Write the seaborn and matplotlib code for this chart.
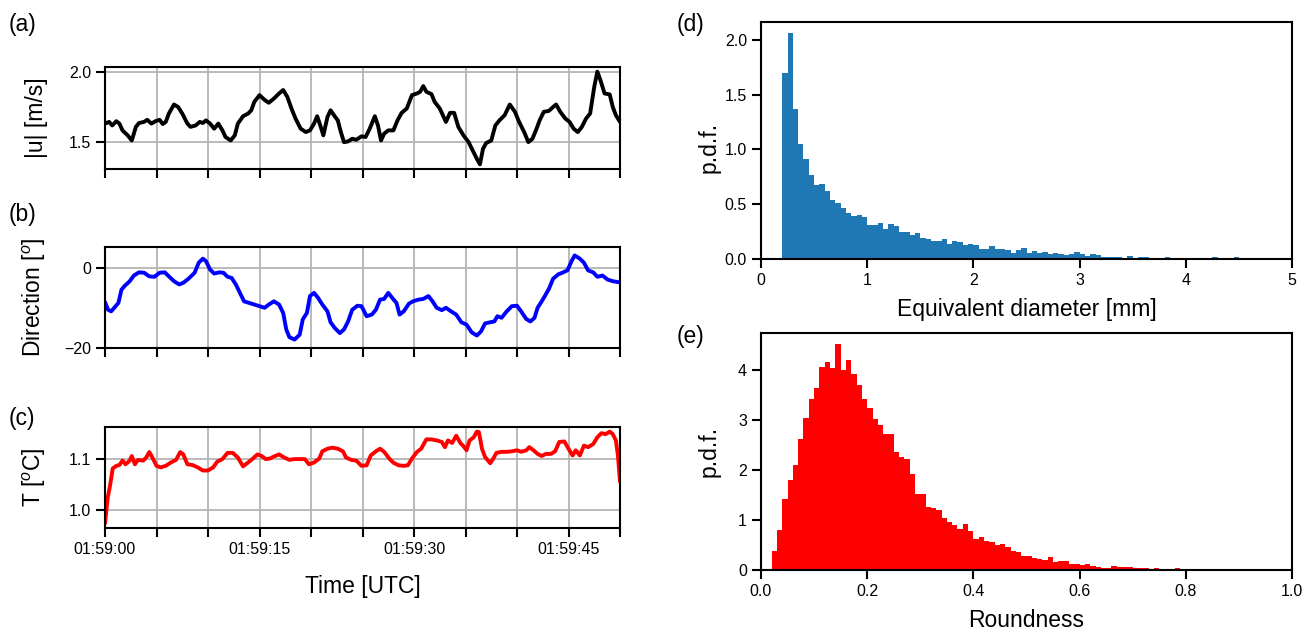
import numpy as np
import pandas as pd
import matplotlib
matplotlib.use("Agg")
import matplotlib.pyplot as plt
import seaborn as sns

# ---------------- data ----------------
# (a) wind speed |u| [m/s] vs seconds after 01:59:00
t_u = [0.0, 0.4, 0.7, 1.1, 1.4, 1.7, 2.2, 2.6, 3.0, 3.3, 3.8, 4.1, 4.5, 4.9, 5.3, 5.6, 5.9, 6.2, 6.7, 7.1,
       7.5, 8.0, 8.3, 8.8, 9.2, 9.5, 9.8, 10.2, 10.6, 11.0, 11.4, 11.7, 12.2, 12.6, 12.9, 13.4, 13.9, 14.2, 14.5, 15.0,
       15.5, 15.9, 16.4, 16.9, 17.3, 17.7, 18.1, 18.5, 19.0, 19.5, 19.9, 20.3, 20.6, 20.9, 21.2, 21.6, 21.9, 22.3, 22.6, 22.9,
       23.2, 23.6, 24.0, 24.4, 24.9,
       25.3, 25.7, 26.2, 26.5, 26.8, 27.1, 27.5, 28.0, 28.4, 28.8, 29.3, 29.8, 30.3, 30.6, 30.9, 31.2, 31.7, 32.0, 32.5, 33.1,
       33.5, 33.9, 34.3, 34.8, 35.3, 35.7, 36.1, 36.4, 36.7, 37.0, 37.5, 37.9, 38.3, 38.8, 39.3, 39.8, 40.2, 40.7, 41.1, 41.5,
       41.9, 42.2, 42.6, 43.1, 43.5, 43.8, 44.2, 44.7, 45.1, 45.5, 45.9, 46.3, 46.7, 47.1, 47.5, 47.8, 48.1, 48.5, 49.0, 49.3,
       49.6, 50.0]
u_vals = [1.633, 1.645, 1.62, 1.65, 1.633, 1.585, 1.55, 1.514, 1.61, 1.637, 1.645, 1.66, 1.633, 1.65, 1.66, 1.63, 1.645, 1.704, 1.768, 1.75,
          1.704, 1.633, 1.61, 1.62, 1.645, 1.637, 1.656, 1.633, 1.597, 1.633, 1.585, 1.538, 1.514, 1.55, 1.633, 1.685, 1.704, 1.727, 1.787, 1.834,
          1.8, 1.78, 1.81, 1.846, 1.87, 1.822, 1.74, 1.668, 1.597, 1.573, 1.585, 1.633, 1.685, 1.62, 1.55, 1.68, 1.727, 1.685, 1.656, 1.573,
          1.502, 1.507, 1.526, 1.519, 1.543,
          1.538, 1.597, 1.685, 1.62, 1.514, 1.562, 1.585, 1.585, 1.656, 1.709, 1.74, 1.834, 1.846, 1.858, 1.898, 1.858, 1.841, 1.787, 1.74, 1.645,
          1.709, 1.709, 1.61, 1.55, 1.502, 1.443, 1.384, 1.345, 1.455, 1.495, 1.514, 1.62, 1.656, 1.692, 1.768, 1.716, 1.645, 1.573, 1.502, 1.526,
          1.597, 1.656, 1.716, 1.723, 1.75, 1.768, 1.716, 1.668, 1.645, 1.597, 1.573, 1.61, 1.668, 1.704, 1.893, 2.0, 1.94, 1.846, 1.839, 1.75,
          1.692, 1.645]

# (b) wind direction [deg]
t_dir = [0.0, 0.3, 0.6, 0.9, 1.3, 1.6, 1.9, 2.4, 2.8, 3.3, 3.8, 4.3, 4.8, 5.3, 5.8, 6.2, 6.7, 7.2, 7.6, 8.1,
         8.7, 9.1, 9.5, 9.8, 10.2, 10.6, 11.1, 11.5, 11.9, 12.3, 12.7, 13.1, 13.5, 14.0, 14.5, 15.0, 15.5, 15.9, 16.4, 16.9,
         17.3, 17.6, 17.9, 18.4, 18.9, 19.2, 19.6, 19.9, 20.3, 20.7, 21.1, 21.6, 21.9, 22.3, 22.8, 23.2, 23.6, 24.0, 24.5, 24.9,
         25.4, 25.9, 26.3, 26.7, 27.1, 27.5, 27.9, 28.3, 28.6, 29.0, 29.5, 29.9, 30.4, 30.9, 31.4, 31.8, 32.2, 32.7, 33.1, 33.6,
         34.1, 34.6, 35.1, 35.6, 36.1, 36.5, 36.9, 37.4, 37.8, 38.1, 38.5, 39.0, 39.5, 40.0, 40.4, 40.9, 41.3, 41.7, 42.0, 42.4,
         42.7, 43.1, 43.5, 44.0, 44.4, 44.9, 45.3, 45.6, 46.1, 46.5, 46.9, 47.4, 47.8, 48.3, 48.8, 49.3, 50.0]
dir_vals = [-8.6, -10.5, -10.9, -10.0, -8.8, -5.5, -4.6, -3.4, -2.0, -1.2, -1.3, -2.2, -2.3, -1.3, -1.2, -2.2, -3.4, -4.2, -3.8, -2.8,
            -1.3, 1.2, 2.2, 1.6, -0.5, -1.5, -1.2, -1.3, -2.3, -2.6, -4.2, -6.3, -8.4, -8.8, -9.2, -9.6, -10.0, -9.2, -8.4, -9.2,
            -11.3, -15.4, -17.3, -17.9, -16.7, -12.9, -11.3, -7.1, -6.3, -7.6, -9.2, -10.9, -13.6, -15.0, -16.3, -15.4, -13.4, -10.5, -9.5, -9.6,
            -12.1, -11.7, -10.5, -8.0, -7.8, -6.3, -7.6, -8.8, -11.7, -10.9, -9.0, -8.4, -8.0, -7.8, -7.1, -8.4, -10.0, -10.6, -10.0, -10.9,
            -11.7, -13.6, -14.2, -16.1, -16.9, -15.9, -13.9, -13.6, -13.4, -12.1, -12.5, -10.9, -9.6, -9.5, -10.9, -12.8, -13.4, -12.5, -10.0, -8.4,
            -7.1, -5.3, -2.8, -1.7, -1.3, -0.7, 1.6, 3.0, 2.2, 1.2, -0.7, -1.2, -2.3, -2.0, -3.0, -3.4, -3.7]

# (c) temperature [degC]
t_T = [0.0, 0.26, 0.5, 0.75, 1.1, 1.4, 1.7, 2.0, 2.4, 2.6, 2.9, 3.2, 3.7, 4.0, 4.3, 4.6, 5.0, 5.4, 5.9, 6.4,
       6.9, 7.3, 7.6, 8.0, 8.5, 9.0, 9.5, 10.0, 10.5, 10.9, 11.4, 11.9, 12.4, 12.9, 13.4, 13.9, 14.3, 14.8, 15.2, 15.6,
       16.0, 16.4, 16.9, 17.4, 17.9, 18.4, 18.9, 19.4, 19.8, 20.3, 20.8, 21.1, 21.6, 22.1, 22.6, 23.1, 23.4, 23.9, 24.4, 24.9,
       25.4, 25.8, 26.3, 26.7, 27.1, 27.6, 28.0, 28.5, 29.0, 29.4, 29.8, 30.3, 30.7, 31.2, 31.7, 32.2, 32.7, 33.0, 33.3, 33.7,
       34.1, 34.5, 34.8, 35.1, 35.4, 35.8, 36.1, 36.3, 36.6, 36.9, 37.4, 37.7, 38.0, 38.5, 39.0, 39.5, 40.0, 40.4, 40.9, 41.2,
       41.6, 42.0, 42.4, 42.8, 43.3, 43.7, 44.1, 44.6, 45.0, 45.4, 45.7, 46.1, 46.5, 46.9, 47.4, 47.8, 48.2, 48.6, 49.0, 49.3,
       49.6, 49.8, 50.0]
T_vals = [0.975, 1.024, 1.049, 1.081, 1.086, 1.0875, 1.096, 1.089, 1.096, 1.105, 1.089, 1.0975, 1.096, 1.102, 1.1125, 1.102, 1.086, 1.083, 1.086, 1.0925,
          1.0975, 1.1125, 1.108, 1.089, 1.0875, 1.083, 1.077, 1.077, 1.083, 1.094, 1.099, 1.111, 1.111, 1.102, 1.085, 1.0925, 1.099, 1.108, 1.105, 1.099,
          1.1, 1.104, 1.108, 1.102, 1.0975, 1.099, 1.099, 1.099, 1.089, 1.0925, 1.1, 1.114, 1.119, 1.121, 1.119, 1.114, 1.102, 1.0975, 1.096, 1.086,
          1.087, 1.106, 1.114, 1.119, 1.113, 1.1, 1.092, 1.087, 1.086, 1.087, 1.1, 1.113, 1.119, 1.137, 1.137, 1.135, 1.132, 1.122, 1.135, 1.13,
          1.144, 1.13, 1.124, 1.116, 1.135, 1.141, 1.152, 1.151, 1.119, 1.103, 1.091, 1.1, 1.111, 1.113, 1.113, 1.114, 1.116, 1.113, 1.116, 1.122,
          1.116, 1.109, 1.105, 1.109, 1.109, 1.114, 1.132, 1.133, 1.119, 1.106, 1.116, 1.106, 1.125, 1.122, 1.128, 1.141, 1.149, 1.147, 1.152, 1.147,
          1.135, 1.106, 1.055]

time_tick_labels = ["01:59:00", "01:59:15", "01:59:30", "01:59:45"]

# (d) equivalent diameter histogram: p.d.f. per 0.05 mm bin, starting at 0.20 mm
diam_first_edge = 0.20
diam_bin_width = 0.05
diam_pdf = [1.70, 2.06, 1.37, 1.05, 0.915, 0.77, 0.673, 0.688, 0.624, 0.542,
            0.515, 0.461, 0.424, 0.397, 0.406, 0.379, 0.306, 0.306, 0.324, 0.27,
            0.315, 0.297, 0.242, 0.25, 0.215, 0.233, 0.188, 0.179, 0.16, 0.16,
            0.179, 0.133, 0.16, 0.152, 0.124, 0.133, 0.124, 0.088, 0.088, 0.115,
            0.088, 0.088, 0.079, 0.052, 0.079, 0.097, 0.052, 0.07, 0.052,
            0.06, 0.05, 0.055, 0.05, 0.04, 0.05, 0.06, 0.05, 0.03, 0.05,
            0.04, 0.02, 0.02, 0.02, 0.02, 0.01, 0.025, 0.01, 0.02, 0.02,
            0.01, 0.01, 0.01, 0.02, 0.01, 0.008, 0.012, 0.012, 0.006, 0.006,
            0.006, 0.006, 0.02, 0.005, 0.003, 0.005, 0.02, 0.004, 0.003, 0.003,
            0.002, 0.003, 0.002, 0.003, 0.002, 0.002, 0.003]

# (e) roundness histogram: p.d.f. per 0.01 bin, starting at 0.00
round_first_edge = 0.0
round_bin_width = 0.01
round_pdf = [0.0, 0.01, 0.38, 0.80, 1.42, 1.80, 2.10, 2.62, 3.05, 3.42,
             3.65, 4.07, 4.17, 4.05, 4.52, 4.00, 4.20, 3.93, 3.70, 3.43,
             3.25, 3.02, 2.90, 2.72, 2.73, 2.37, 2.27, 2.22, 1.93, 1.53,
             1.52, 1.27, 1.25, 1.21, 1.05, 0.96, 0.90, 0.82, 0.92, 0.78,
             0.62, 0.66, 0.58, 0.57, 0.51, 0.52, 0.46, 0.38, 0.37, 0.28,
             0.28, 0.24, 0.22, 0.21, 0.27, 0.17, 0.18, 0.18, 0.12, 0.12,
             0.10, 0.12, 0.08, 0.06, 0.05, 0.05, 0.08, 0.07, 0.07, 0.07,
             0.05, 0.04, 0.04, 0.03, 0.04, 0.03, 0.02, 0.02, 0.04, 0.02,
             0.02, 0.02, 0.01, 0.01, 0.01, 0.01, 0.005, 0.005, 0.015, 0.005,
             0.003, 0.003, 0.003, 0.003, 0.003, 0.003, 0.003, 0.003, 0.003, 0.003]

# ---------------- style ----------------
sns.set_theme(style="ticks")
plt.rcParams['font.family'] = ['Liberation Sans', 'DejaVu Sans']
plt.rcParams['mathtext.fontset'] = 'custom'
plt.rcParams['mathtext.rm'] = 'Liberation Sans'
plt.rcParams['mathtext.it'] = 'Liberation Sans:italic'
plt.rcParams['axes.edgecolor'] = 'black'
plt.rcParams['axes.linewidth'] = 1.5
plt.rcParams['text.color'] = 'black'
plt.rcParams['axes.labelcolor'] = 'black'
plt.rcParams['xtick.color'] = 'black'
plt.rcParams['ytick.color'] = 'black'

W, H = 1314, 631
fig = plt.figure(figsize=(W / 100, H / 100), dpi=100)


def px_axes(left, top, right, bottom):
    return fig.add_axes([left / W, 1 - bottom / H, (right - left) / W, (bottom - top) / H])


TICK_FS = 11.5
LAB_FS = 16.5

ax_a = px_axes(105, 67, 620, 169)
ax_b = px_axes(105, 247, 620, 348)
ax_c = px_axes(105, 427, 620, 528)
ax_d = px_axes(761, 22, 1292, 259)
ax_e = px_axes(761, 333, 1292, 570)

line_specs = [
    (ax_a, t_u, u_vals, "black", "|u| [m/s]", [1.5, 2.0], ["1.5", "2.0"], None),
    (ax_b, t_dir, dir_vals, "#0000ff", "Direction [$^o$]", [-20, 0], ["\u221220", "0"], (-20, 5.1)),
    (ax_c, t_T, T_vals, "#ff0000", "T [$^o$C]", [1.0, 1.1], ["1.0", "1.1"], None),
]
for ax, tt, vv, col, lab, yt, ytl, ylim in line_specs:
    df = pd.DataFrame({"t": tt, "v": vv})
    sns.lineplot(data=df, x="t", y="v", ax=ax, color=col, lw=2.8, sort=True)
    ax.set_xlim(0, 50)
    if ylim is not None:
        ax.set_ylim(*ylim)
    ax.set_yticks(yt)
    ax.set_yticklabels(ytl)
    ax.set_xticks(np.arange(0, 51, 5))
    ax.set_xticklabels([])
    ax.grid(True, color="#b4b4b4", lw=1.3)
    ax.set_axisbelow(True)
    ax.set_ylabel(lab, fontsize=LAB_FS)
    ax.yaxis.set_label_coords(-0.11, 0.5)
    ax.set_xlabel("")
    ax.tick_params(direction="out", length=6.5, width=1.5, labelsize=TICK_FS, colors="black")

labels_c = []
k = 0
for s in range(0, 51, 5):
    if s % 15 == 0:
        labels_c.append(time_tick_labels[k])
        k += 1
    else:
        labels_c.append("")
ax_c.set_xticklabels(labels_c)
ax_c.set_xlabel("Time [UTC]", fontsize=LAB_FS)
ax_c.xaxis.set_label_coords(0.5, -0.47)

# histograms
d_edges = [diam_first_edge + diam_bin_width * i for i in range(len(diam_pdf) + 1)]
d_df = pd.DataFrame({
    "x": [(d_edges[i] + d_edges[i + 1]) / 2 for i in range(len(diam_pdf))],
    "w": diam_pdf,
})
sns.histplot(data=d_df, x="x", weights="w", bins=d_edges, stat="count", ax=ax_d,
             color="#1f77b4", alpha=1, linewidth=0)
ax_d.set_xlim(0, 5)
ax_d.set_xticks([0, 1, 2, 3, 4, 5])
ax_d.set_yticks([0.0, 0.5, 1.0, 1.5, 2.0])
ax_d.set_yticklabels(["0.0", "0.5", "1.0", "1.5", "2.0"])
ax_d.set_xlabel("Equivalent diameter [mm]", fontsize=LAB_FS)
ax_d.set_ylabel("p.d.f.", fontsize=LAB_FS)
ax_d.xaxis.set_label_coords(0.5, -0.165)
ax_d.yaxis.set_label_coords(-0.077, 0.47)

r_edges = [round_first_edge + round_bin_width * i for i in range(len(round_pdf) + 1)]
r_df = pd.DataFrame({
    "x": [(r_edges[i] + r_edges[i + 1]) / 2 for i in range(len(round_pdf))],
    "w": round_pdf,
})
sns.histplot(data=r_df, x="x", weights="w", bins=r_edges, stat="count", ax=ax_e,
             color="#ff0000", alpha=1, linewidth=0)
ax_e.set_xlim(0, 1)
ax_e.set_xticks([0.0, 0.2, 0.4, 0.6, 0.8, 1.0])
ax_e.set_xticklabels(["0.0", "0.2", "0.4", "0.6", "0.8", "1.0"])
ax_e.set_yticks([0, 1, 2, 3, 4])
ax_e.set_xlabel("Roundness", fontsize=LAB_FS)
ax_e.set_ylabel("p.d.f.", fontsize=LAB_FS)
ax_e.xaxis.set_label_coords(0.5, -0.165)
ax_e.yaxis.set_label_coords(-0.077, 0.5)

for ax in (ax_d, ax_e):
    ax.tick_params(direction="out", length=6.5, width=1.5, labelsize=TICK_FS, colors="black")
    for sp in ax.spines.values():
        sp.set_linewidth(1.5)

# panel labels
for txt, x, y in [("(a)", 22, 24), ("(b)", 22, 214), ("(c)", 22, 419), ("(d)", 690, 25), ("(e)", 690, 336)]:
    fig.text(x / W, 1 - y / H, txt, fontsize=LAB_FS, ha="center", va="center")

fig.savefig("out.png", dpi=100)
